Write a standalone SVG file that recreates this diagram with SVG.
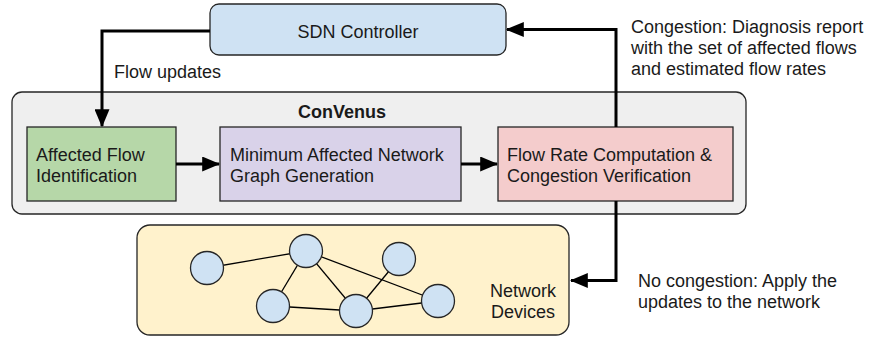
<svg xmlns="http://www.w3.org/2000/svg" width="870" height="337" viewBox="0 0 870 337">
<style>
text{font-family:"Liberation Sans",Arial,sans-serif;font-size:18px;fill:#1a1a1a}
.b{font-weight:bold}
.box{stroke:#262626;stroke-width:1.3}
.conn{fill:none;stroke:#000;stroke-width:3}
.edge{stroke:#000;stroke-width:1.3}
.dev{fill:#cfe2f3;stroke:#262626;stroke-width:1.3}
</style>
<defs>
<marker id="ah" markerWidth="6" markerHeight="5" refX="5.6" refY="2.5" orient="auto" markerUnits="strokeWidth">
<path d="M0,0 L6,2.5 L0,5 Z" fill="#000"/>
</marker>
</defs>
<g id="sdn-controller">
<rect class="box" x="210" y="4" width="296" height="51" rx="9" fill="#cfe2f3"/>
<text x="358" y="38" text-anchor="middle">SDN Controller</text>
</g>
<g id="convenus">
<rect class="box" x="12" y="92" width="734" height="122" rx="10" fill="#efefef"/>
<text class="b" x="342" y="118" text-anchor="middle">ConVenus</text>
</g>
<g id="affected-flow">
<rect class="box" x="27" y="127" width="149" height="74" fill="#b6d7a8"/>
<text x="36" y="161">Affected Flow</text>
<text x="36" y="181.5">Identification</text>
</g>
<g id="min-graph">
<rect class="box" x="220" y="127" width="241" height="74" fill="#d9d2e9"/>
<text x="230" y="161">Minimum Affected Network</text>
<text x="230" y="181.5">Graph Generation</text>
</g>
<g id="flow-rate">
<rect class="box" x="498" y="127" width="235" height="74" fill="#f4cccc"/>
<text x="507" y="161">Flow Rate Computation &amp;</text>
<text x="507" y="181.5">Congestion Verification</text>
</g>
<g id="network-devices">
<rect class="box" x="137" y="225" width="432" height="110" rx="13" fill="#fff2cc"/>
<line class="edge" x1="207" y1="268" x2="306" y2="251"/>
<line class="edge" x1="306" y1="251" x2="273" y2="306"/>
<line class="edge" x1="306" y1="251" x2="356" y2="311"/>
<line class="edge" x1="306" y1="251" x2="438" y2="301"/>
<line class="edge" x1="273" y1="306" x2="356" y2="311"/>
<line class="edge" x1="356" y1="311" x2="399" y2="259"/>
<line class="edge" x1="356" y1="311" x2="438" y2="301"/>
<circle class="dev" cx="207" cy="268" r="16.5"/>
<circle class="dev" cx="306" cy="251" r="16.5"/>
<circle class="dev" cx="399" cy="259" r="16.5"/>
<circle class="dev" cx="273" cy="306" r="16.5"/>
<circle class="dev" cx="356" cy="311" r="16.5"/>
<circle class="dev" cx="438" cy="301" r="16.5"/>
<text x="523" y="297" text-anchor="middle">Network</text>
<text x="523" y="318" text-anchor="middle">Devices</text>
</g>
<g id="connectors">
<path class="conn" d="M210,31 H102 V126" marker-end="url(#ah)"/>
<path class="conn" d="M176,164 H219" marker-end="url(#ah)"/>
<path class="conn" d="M461,164 H497" marker-end="url(#ah)"/>
<path class="conn" d="M616,127 V29.5 H507" marker-end="url(#ah)"/>
<path class="conn" d="M616,201 V280.5 H571" marker-end="url(#ah)"/>
<text x="114" y="78">Flow updates</text>
<text x="631" y="33.3">Congestion: Diagnosis report</text>
<text x="631" y="54.3">with the set of affected flows</text>
<text x="631" y="75.3">and estimated flow rates</text>
<text x="638" y="287.3">No congestion: Apply the</text>
<text x="638" y="308.3">updates to the network</text>
</g>
</svg>
